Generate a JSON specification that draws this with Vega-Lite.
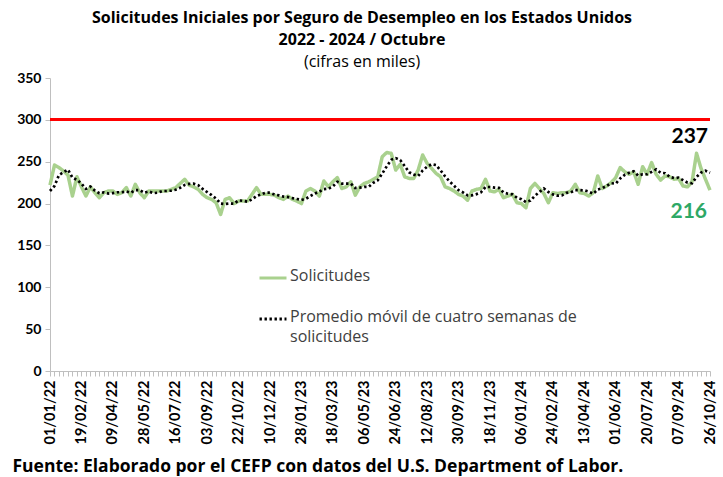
{
  "$schema": "https://vega.github.io/schema/vega-lite/v6.json",
  "width": 660,
  "height": 293,
  "autosize": {"type": "none"},
  "padding": {"left": 50, "top": 78, "right": 13, "bottom": 106},
  "background": "white",
  "config": {
    "view": {"stroke": null},
    "font": "Lato",
    "axis": {"grid": false, "domainColor": "#bfbfbf", "tickColor": "#bfbfbf", "labelColor": "#000000", "labelFont": "Lato", "labelFontWeight": "bold"}
  },
  "title": {
    "text": ["Solicitudes Iniciales por Seguro de Desempleo en los Estados Unidos", "2022 - 2024 / Octubre"],
    "subtitle": "(cifras en miles)",
    "font": "Open Sans",
    "fontSize": 16,
    "fontWeight": "bold",
    "lineHeight": 22,
    "color": "#000000",
    "subtitleFont": "Open Sans",
    "subtitleFontSize": 16,
    "subtitleColor": "#000000",
    "subtitlePadding": 6,
    "anchor": "middle",
    "frame": "group",
    "dx": -18,
    "offset": 1
  },
  "data": {
    "values": [
      {"f": "01/01/22", "s": 222, "p": 215},
      {"f": "08/01/22", "s": 246, "p": 221},
      {"f": "15/01/22", "s": 243, "p": 234},
      {"f": "22/01/22", "s": 239, "p": 237.5},
      {"f": "29/01/22", "s": 234, "p": 240.5},
      {"f": "05/02/22", "s": 209, "p": 231},
      {"f": "12/02/22", "s": 232, "p": 228.5},
      {"f": "19/02/22", "s": 220, "p": 223.8},
      {"f": "26/02/22", "s": 209, "p": 217.5},
      {"f": "05/03/22", "s": 220, "p": 220.3},
      {"f": "12/03/22", "s": 213, "p": 215.5},
      {"f": "19/03/22", "s": 207, "p": 212.3},
      {"f": "26/03/22", "s": 213, "p": 213.3},
      {"f": "02/04/22", "s": 215, "p": 212},
      {"f": "09/04/22", "s": 215, "p": 212.5},
      {"f": "16/04/22", "s": 211, "p": 213.5},
      {"f": "23/04/22", "s": 213, "p": 213.5},
      {"f": "30/04/22", "s": 219, "p": 214.5},
      {"f": "07/05/22", "s": 209, "p": 213},
      {"f": "14/05/22", "s": 223, "p": 216},
      {"f": "21/05/22", "s": 213, "p": 216},
      {"f": "28/05/22", "s": 207, "p": 213},
      {"f": "04/06/22", "s": 215, "p": 214.5},
      {"f": "11/06/22", "s": 215, "p": 212.5},
      {"f": "18/06/22", "s": 215, "p": 213},
      {"f": "25/06/22", "s": 215, "p": 215},
      {"f": "02/07/22", "s": 215, "p": 215},
      {"f": "09/07/22", "s": 217, "p": 215.5},
      {"f": "16/07/22", "s": 219, "p": 216.5},
      {"f": "23/07/22", "s": 224, "p": 218.8},
      {"f": "30/07/22", "s": 229, "p": 222.3},
      {"f": "06/08/22", "s": 222, "p": 223.5},
      {"f": "13/08/22", "s": 220, "p": 223.8},
      {"f": "20/08/22", "s": 217, "p": 222},
      {"f": "27/08/22", "s": 211, "p": 217.5},
      {"f": "03/09/22", "s": 207, "p": 213.8},
      {"f": "10/09/22", "s": 205, "p": 210},
      {"f": "17/09/22", "s": 201, "p": 206},
      {"f": "24/09/22", "s": 187, "p": 200},
      {"f": "01/10/22", "s": 205, "p": 199.5},
      {"f": "08/10/22", "s": 207, "p": 200},
      {"f": "15/10/22", "s": 200, "p": 199.8},
      {"f": "22/10/22", "s": 203, "p": 203.8},
      {"f": "29/10/22", "s": 203, "p": 203.3},
      {"f": "05/11/22", "s": 203, "p": 202.3},
      {"f": "12/11/22", "s": 211, "p": 205},
      {"f": "19/11/22", "s": 219, "p": 209},
      {"f": "26/11/22", "s": 211, "p": 211},
      {"f": "03/12/22", "s": 211, "p": 213},
      {"f": "10/12/22", "s": 211, "p": 213},
      {"f": "17/12/22", "s": 210, "p": 210.8},
      {"f": "24/12/22", "s": 207, "p": 209.8},
      {"f": "31/12/22", "s": 205, "p": 208.3},
      {"f": "07/01/23", "s": 209, "p": 207.8},
      {"f": "14/01/23", "s": 205, "p": 206.5},
      {"f": "21/01/23", "s": 203, "p": 205.5},
      {"f": "28/01/23", "s": 200, "p": 204.3},
      {"f": "04/02/23", "s": 215, "p": 205.8},
      {"f": "11/02/23", "s": 218, "p": 209},
      {"f": "18/02/23", "s": 215, "p": 212},
      {"f": "25/02/23", "s": 209, "p": 214.3},
      {"f": "04/03/23", "s": 227, "p": 217.3},
      {"f": "11/03/23", "s": 220, "p": 217.8},
      {"f": "18/03/23", "s": 226, "p": 220.5},
      {"f": "25/03/23", "s": 231, "p": 226},
      {"f": "01/04/23", "s": 218, "p": 223.8},
      {"f": "08/04/23", "s": 220, "p": 223.8},
      {"f": "15/04/23", "s": 226, "p": 223.8},
      {"f": "22/04/23", "s": 210, "p": 218.5},
      {"f": "29/04/23", "s": 220, "p": 219},
      {"f": "06/05/23", "s": 224, "p": 220},
      {"f": "13/05/23", "s": 226, "p": 220},
      {"f": "20/05/23", "s": 229, "p": 224.8},
      {"f": "27/05/23", "s": 232, "p": 227.8},
      {"f": "03/06/23", "s": 256, "p": 235.8},
      {"f": "10/06/23", "s": 261, "p": 244.5},
      {"f": "17/06/23", "s": 260, "p": 252.3},
      {"f": "24/06/23", "s": 240, "p": 254.3},
      {"f": "01/07/23", "s": 247, "p": 252},
      {"f": "08/07/23", "s": 232, "p": 244.8},
      {"f": "15/07/23", "s": 230, "p": 237.3},
      {"f": "22/07/23", "s": 230, "p": 234.8},
      {"f": "29/07/23", "s": 240, "p": 233},
      {"f": "05/08/23", "s": 258, "p": 239.5},
      {"f": "12/08/23", "s": 248, "p": 244},
      {"f": "19/08/23", "s": 242, "p": 247},
      {"f": "26/08/23", "s": 236, "p": 246},
      {"f": "02/09/23", "s": 232, "p": 239.5},
      {"f": "09/09/23", "s": 220, "p": 232.5},
      {"f": "16/09/23", "s": 218, "p": 226.5},
      {"f": "23/09/23", "s": 215, "p": 221.3},
      {"f": "30/09/23", "s": 211, "p": 216},
      {"f": "07/10/23", "s": 209, "p": 213.3},
      {"f": "14/10/23", "s": 204, "p": 209.8},
      {"f": "21/10/23", "s": 215, "p": 209.8},
      {"f": "28/10/23", "s": 217, "p": 211.3},
      {"f": "04/11/23", "s": 218, "p": 213.5},
      {"f": "11/11/23", "s": 229, "p": 219.8},
      {"f": "18/11/23", "s": 215, "p": 219.8},
      {"f": "25/11/23", "s": 214, "p": 219},
      {"f": "02/12/23", "s": 217, "p": 218.8},
      {"f": "09/12/23", "s": 207, "p": 213.3},
      {"f": "16/12/23", "s": 209, "p": 211.8},
      {"f": "23/12/23", "s": 211, "p": 211},
      {"f": "30/12/23", "s": 201, "p": 207},
      {"f": "06/01/24", "s": 200, "p": 205.3},
      {"f": "13/01/24", "s": 195, "p": 201.8},
      {"f": "20/01/24", "s": 218, "p": 203.5},
      {"f": "27/01/24", "s": 224, "p": 209.3},
      {"f": "03/02/24", "s": 218, "p": 213.8},
      {"f": "10/02/24", "s": 212, "p": 218},
      {"f": "17/02/24", "s": 201, "p": 213.8},
      {"f": "24/02/24", "s": 213, "p": 211},
      {"f": "02/03/24", "s": 212, "p": 209.5},
      {"f": "09/03/24", "s": 213, "p": 209.8},
      {"f": "16/03/24", "s": 213, "p": 212.8},
      {"f": "23/03/24", "s": 215, "p": 213.3},
      {"f": "30/03/24", "s": 223, "p": 216},
      {"f": "06/04/24", "s": 213, "p": 216},
      {"f": "13/04/24", "s": 212, "p": 215.8},
      {"f": "20/04/24", "s": 209, "p": 214.3},
      {"f": "27/04/24", "s": 213, "p": 211.8},
      {"f": "04/05/24", "s": 233, "p": 216.8},
      {"f": "11/05/24", "s": 218, "p": 218.3},
      {"f": "18/05/24", "s": 221, "p": 221.3},
      {"f": "25/05/24", "s": 225, "p": 224.3},
      {"f": "01/06/24", "s": 231, "p": 223.8},
      {"f": "08/06/24", "s": 243, "p": 230},
      {"f": "15/06/24", "s": 238, "p": 234.3},
      {"f": "22/06/24", "s": 235, "p": 236.8},
      {"f": "29/06/24", "s": 238, "p": 238.5},
      {"f": "06/07/24", "s": 223, "p": 233.5},
      {"f": "13/07/24", "s": 244, "p": 235},
      {"f": "20/07/24", "s": 235, "p": 235},
      {"f": "27/07/24", "s": 249, "p": 237.8},
      {"f": "03/08/24", "s": 235, "p": 240.8},
      {"f": "10/08/24", "s": 228, "p": 236.8},
      {"f": "17/08/24", "s": 233, "p": 236.3},
      {"f": "24/08/24", "s": 232, "p": 232},
      {"f": "31/08/24", "s": 229, "p": 230.5},
      {"f": "07/09/24", "s": 230, "p": 231},
      {"f": "14/09/24", "s": 221, "p": 228},
      {"f": "21/09/24", "s": 220, "p": 225},
      {"f": "28/09/24", "s": 226, "p": 224.3},
      {"f": "05/10/24", "s": 260, "p": 231.8},
      {"f": "12/10/24", "s": 242, "p": 237},
      {"f": "19/10/24", "s": 229, "p": 239.3},
      {"f": "26/10/24", "s": 216, "p": 236.8}
    ]
  },
  "encoding": {
    "x": {
      "field": "f",
      "type": "ordinal",
      "sort": null,
      "scale": {"type": "point", "padding": 0},
      "axis": {
        "title": "Fuente: Elaborado por el CEFP con datos del U.S. Department of Labor.",
        "titleFont": "Open Sans",
        "titleFontSize": 17.5,
        "titleFontWeight": "bold",
        "titleColor": "#000000",
        "titleAnchor": "start",
        "titleAlign": "left",
        "titleBaseline": "alphabetic",
        "titleX": -38,
        "titleY": 100,
        "labelAngle": 270,
        "labelAlign": "right",
        "labelBaseline": "middle",
        "labelFontSize": 14.5,
        "labelPadding": 4,
        "labelOverlap": false,
        "tickSize": 5,
        "labelExpr": "indexof(['01/01/22','19/02/22','09/04/22','28/05/22','16/07/22','03/09/22','22/10/22','10/12/22','28/01/23','18/03/23','06/05/23','24/06/23','12/08/23','30/09/23','18/11/23','06/01/24','24/02/24','13/04/24','01/06/24','20/07/24','07/09/24','26/10/24'], datum.label) >= 0 ? datum.label : ''"
      }
    }
  },
  "layer": [
    {
      "mark": {"type": "rule", "color": "#ff0000", "strokeWidth": 2.5},
      "encoding": {"x": null, "y": {"datum": 300, "type": "quantitative", "scale": {"domain": [0, 350]}}}
    },
    {
      "mark": {"type": "line", "strokeWidth": 3.5, "strokeJoin": "round"},
      "encoding": {
        "y": {
          "field": "s",
          "type": "quantitative",
          "scale": {"domain": [0, 350]},
          "axis": {"title": null, "values": [0, 50, 100, 150, 200, 250, 300, 350], "labelFontSize": 14, "labelPadding": 4, "tickSize": 5}
        },
        "color": {
          "datum": "Solicitudes",
          "scale": {"domain": ["Solicitudes", "Promedio móvil de cuatro semanas de|solicitudes"], "range": ["#a9d18e", "#000000"]},
          "legend": {
            "title": null,
            "orient": "none",
            "legendX": 208,
            "legendY": 185,
            "padding": 0,
            "symbolType": "stroke",
            "symbolSize": 729,
            "symbolStrokeWidth": 3,
            "labelOffset": 2,
            "labelFont": "Open Sans",
            "labelFontSize": 16,
            "labelColor": "#404040",
            "rowPadding": 20,
            "labelLimit": 400,
            "labelExpr": "split(datum.label, '|')",
            "encode": {"labels": {"update": {"baseline": {"value": "top"}, "dy": {"value": -10}, "lineHeight": {"value": 20}}}}
          }
        },
        "strokeDash": {
          "datum": "Solicitudes",
          "scale": {"domain": ["Solicitudes", "Promedio móvil de cuatro semanas de|solicitudes"], "range": [[1, 0], [2.4, 2.6]]},
          "legend": {
            "title": null,
            "orient": "none",
            "legendX": 208,
            "legendY": 185,
            "padding": 0,
            "symbolType": "stroke",
            "symbolSize": 729,
            "symbolStrokeWidth": 3,
            "labelOffset": 2,
            "labelFont": "Open Sans",
            "labelFontSize": 16,
            "labelColor": "#404040",
            "rowPadding": 20,
            "labelLimit": 400,
            "labelExpr": "split(datum.label, '|')",
            "encode": {"labels": {"update": {"baseline": {"value": "top"}, "dy": {"value": -10}, "lineHeight": {"value": 20}}}}
          }
        }
      }
    },
    {
      "mark": {"type": "line", "strokeWidth": 2.7},
      "encoding": {
        "y": {"field": "p", "type": "quantitative"},
        "color": {"datum": "Promedio móvil de cuatro semanas de|solicitudes"},
        "strokeDash": {"datum": "Promedio móvil de cuatro semanas de|solicitudes"}
      }
    },
    {
      "transform": [{"filter": "datum.f == '26/10/24'"}],
      "mark": {"type": "text", "align": "right", "baseline": "middle", "dx": -2, "dy": -36, "font": "Lato", "fontSize": 21, "fontWeight": "bold", "color": "#000000"},
      "encoding": {"y": {"field": "p", "type": "quantitative"}, "text": {"field": "p", "format": ".0f"}}
    },
    {
      "transform": [{"filter": "datum.f == '26/10/24'"}],
      "mark": {"type": "text", "align": "right", "baseline": "middle", "dx": -3, "dy": 22, "font": "Lato", "fontSize": 21, "fontWeight": "bold", "color": "#2ea866"},
      "encoding": {"y": {"field": "s", "type": "quantitative"}, "text": {"field": "s", "format": ".0f"}}
    }
  ]
}
